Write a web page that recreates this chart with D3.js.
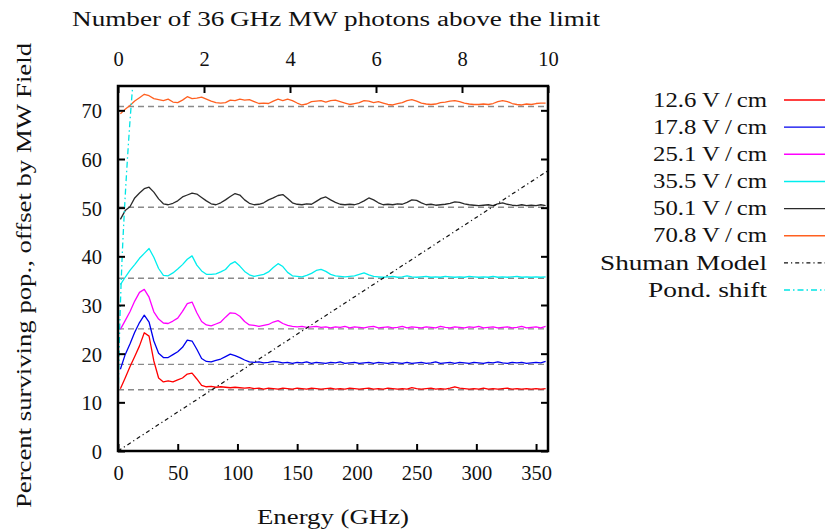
<!DOCTYPE html>
<html><head><meta charset="utf-8">
<script src="https://cdn.jsdelivr.net/npm/d3@7"></script>
<style>
body{margin:0;background:#fff}
svg text{font-family:"Liberation Serif","DejaVu Serif","Noto Serif",serif;fill:#111}
</style>
</head><body>
<svg id="c" width="826" height="531"></svg>
<script>
// ---- data ----
const energy = [
  2,6,10,14,18,22,26,30,34,38,
  42,46,50,54,58,62,66,70,74,78,
  82,86,90,94,98,102,106,110,114,118,
  122,126,130,134,138,142,146,150,154,158,
  162,166,170,174,178,182,186,190,194,198,
  202,206,210,214,218,222,226,230,234,238,
  242,246,250,254,258,262,266,270,274,278,
  282,286,290,294,298,302,306,310,314,318,
  322,326,330,334,338,342,346,350,354,358];

const fields = [12.6, 17.8, 25.1, 35.5, 50.1, 70.8];
const seriesNames = ["12.6 V\u2009/\u2009cm","17.8 V\u2009/\u2009cm","25.1 V\u2009/\u2009cm","35.5 V\u2009/\u2009cm","50.1 V\u2009/\u2009cm","70.8 V\u2009/\u2009cm"];

const pop126 = [
  12.8,15.0,17.3,19.4,21.6,24.3,23.6,18.5,15.0,14.2,
  14.4,14.2,14.6,15.0,15.8,16.0,14.8,13.5,13.2,13.3,
  13.1,13.2,13.1,13.0,13.1,13.0,12.9,13.0,12.8,12.9,
  12.7,12.9,12.8,12.7,12.9,12.8,12.7,12.9,12.8,12.7,
  12.9,12.8,12.7,12.8,12.9,12.7,12.8,12.7,12.9,12.8,
  12.7,12.8,12.9,12.7,12.8,12.7,12.9,12.8,12.7,12.8,
  12.7,13.0,12.8,12.7,12.8,12.9,12.7,12.8,12.7,12.9,
  13.2,12.9,12.8,12.7,12.8,12.7,12.9,12.7,12.8,12.7,
  12.8,12.9,12.7,12.8,12.7,12.8,12.7,12.8,12.7,12.8];

const pop178 = [
  16.8,19.8,22.0,24.4,26.4,27.9,26.5,22.6,20.1,19.2,
  19.2,19.8,20.4,21.3,22.8,22.6,20.9,19.0,18.4,18.3,
  18.6,18.9,19.4,19.9,19.6,19.2,18.7,18.3,18.2,18.3,
  18.1,18.2,18.4,18.3,18.1,18.2,18.0,18.2,18.1,18.3,
  18.0,18.2,18.1,18.0,18.2,18.1,18.3,18.0,18.1,18.2,
  18.0,18.1,18.2,18.0,18.2,18.1,18.0,18.2,18.1,18.0,
  18.2,18.0,18.1,18.2,18.0,18.1,18.3,18.0,18.1,18.2,
  18.0,18.2,18.1,18.0,18.2,18.1,18.0,18.2,18.1,18.3,
  18.1,18.0,18.2,18.1,18.2,18.0,18.1,18.2,18.1,18.4];

const pop251 = [
  25.0,26.8,28.6,30.8,32.6,33.2,31.6,28.6,27.1,26.3,
  26.2,26.7,27.3,28.7,30.3,30.6,28.4,26.6,25.9,25.7,
  26.1,26.5,27.5,28.4,28.3,27.7,26.6,25.9,25.8,25.6,
  25.8,26.0,26.5,26.8,26.2,25.8,25.6,25.5,25.6,25.4,
  25.5,25.6,25.4,25.5,25.3,25.5,25.4,25.6,25.3,25.5,
  25.4,25.3,25.5,25.6,25.3,25.4,25.5,25.3,25.4,25.6,
  25.3,25.5,25.4,25.3,25.5,25.4,25.3,25.6,25.4,25.3,
  25.5,25.4,25.3,25.5,25.4,25.6,25.3,25.4,25.5,25.3,
  25.4,25.5,25.3,25.4,25.6,25.3,25.4,25.5,25.3,25.6];

const pop355 = [
  34.2,35.7,37.1,38.3,39.6,40.6,41.6,39.8,37.5,36.1,
  36.0,36.6,37.4,38.3,39.4,40.1,38.2,37.0,36.3,36.3,
  36.4,36.8,37.3,38.4,38.9,38.0,36.9,36.2,35.9,36.1,
  36.3,36.8,37.7,38.5,37.9,36.7,36.0,35.9,35.8,36.1,
  36.5,37.1,37.3,36.9,36.3,36.0,35.9,35.8,35.9,36.0,
  36.3,36.6,36.2,35.9,35.8,35.7,35.8,35.9,35.7,35.8,
  36.0,35.8,35.7,35.8,35.9,35.7,35.8,35.7,35.9,35.8,
  35.7,35.8,35.7,35.9,35.8,35.7,35.8,35.7,35.9,35.7,
  35.8,35.7,35.8,35.9,35.7,35.8,35.7,35.8,35.7,35.8];

const pop501 = [
  47.6,49.4,50.2,52.0,53.0,53.9,54.2,53.2,51.8,50.8,
  50.6,50.9,51.4,52.2,52.6,53.0,52.8,52.1,51.4,50.8,
  50.6,51.0,51.6,52.3,52.9,52.6,51.6,50.9,50.6,50.7,
  51.0,51.6,52.0,52.5,52.7,51.9,51.0,50.7,50.6,50.8,
  50.7,51.3,51.9,52.2,51.6,51.1,50.7,50.6,50.7,50.6,
  50.9,51.4,52.0,51.6,51.0,50.6,50.7,50.6,50.8,50.7,
  51.1,51.6,51.5,51.0,50.6,50.7,50.5,50.6,50.7,50.9,
  51.2,51.1,50.8,50.6,50.5,50.4,50.5,50.6,50.4,50.8,
  51.0,50.7,50.5,50.4,50.6,50.4,50.5,50.4,50.6,50.4];

const pop708 = [
  69.3,70.2,71.0,71.9,72.6,73.3,73.0,72.4,72.2,72.0,
  72.3,71.7,71.6,72.1,72.8,72.4,72.5,72.7,72.3,71.9,
  71.6,71.5,71.6,72.1,72.0,72.3,72.1,72.2,71.8,71.4,
  71.5,71.4,71.9,72.3,72.0,72.3,72.0,71.5,71.1,71.3,
  71.8,71.9,72.0,71.7,72.0,72.1,71.8,71.5,71.2,71.4,
  71.6,72.0,71.9,71.6,71.8,71.5,71.2,71.1,71.4,71.6,
  72.0,72.2,71.9,71.5,71.3,71.2,71.3,71.6,71.7,71.9,
  72.0,71.8,71.5,71.3,71.2,71.2,71.3,71.2,71.4,71.8,
  72.0,71.8,71.4,71.2,71.1,71.3,71.2,71.4,71.5,71.5];

const shumanEnergy = [0, 360];
const shumanValue = [0, 57.6];

const pondField = [0, 10, 20, 30, 40, 50, 60, 70, 75];
const pondEnergy = [0, 0.2, 0.9, 2.0, 3.5, 5.5, 7.9, 10.7, 12.3];

const energyTicks = [0, 50, 100, 150, 200, 250, 300, 350];
const popTicks = [0, 10, 20, 30, 40, 50, 60, 70];
const photonTicks = [0, 2, 4, 6, 8, 10];

const colors = ["#ff0000", "#0000ee", "#ff00ff", "#00eeee", "#2a2a2a", "#ff6020"];

// ---- chart ----
const FS = 20.5;
const svg = d3.select("#c");
const L = 118, R = 548, T = 86, B = 451;
const x = d3.scaleLinear().domain([0, 360]).range([L, R]);
const xTop = d3.scaleLinear().domain([0, 10]).range([L, R]);
const y = d3.scaleLinear().domain([0, 75]).range([B, T]);

svg.append("defs").append("clipPath").attr("id", "clip")
  .append("rect").attr("x", L).attr("y", T).attr("width", R - L).attr("height", B - T);

const plot = svg.append("g").attr("clip-path", "url(#clip)");

// baselines
plot.selectAll("line.base").data(fields).enter().append("line")
  .attr("x1", x(0)).attr("x2", x(360))
  .attr("y1", d => y(d)).attr("y2", d => y(d))
  .attr("stroke", "#8a8a8a").attr("stroke-width", 1.4)
  .attr("stroke-dasharray", "6,4");

const allSeries = [pop126, pop178, pop251, pop355, pop501, pop708];
const line = d3.line().x(d => x(d[0])).y(d => y(d[1]));
allSeries.forEach((s, i) => {
  plot.append("path").datum(d3.zip(energy, s))
    .attr("d", line).attr("fill", "none")
    .attr("stroke", colors[i]).attr("stroke-width", 1.3)
    .attr("stroke-linejoin", "round");
});

// Shuman model
plot.append("path").datum(d3.zip(shumanEnergy, shumanValue))
  .attr("d", line).attr("fill", "none").attr("stroke", "#111")
  .attr("stroke-width", 1.2).attr("stroke-dasharray", "4,3,1.2,3");

// Pond. shift
const pondLine = d3.line().curve(d3.curveMonotoneY).x(d => x(d[0])).y(d => y(d[1]));
plot.append("path").datum(d3.zip(pondEnergy, pondField))
  .attr("d", pondLine).attr("fill", "none").attr("stroke", "#00e5e5")
  .attr("stroke-width", 1.3).attr("stroke-dasharray", "6,3,1.5,3");

// axes
function styleAxis(g) {
  g.select(".domain").remove();
  g.attr("font-family", null);
  g.selectAll(".tick line").attr("stroke", "#000").attr("stroke-width", 2);
  g.selectAll(".tick text").attr("font-size", FS).attr("fill", "#111");
}
svg.append("g").attr("transform", `translate(0,${B})`)
  .call(d3.axisBottom(x).tickValues(energyTicks).tickSizeInner(-7).tickSizeOuter(0).tickPadding(0))
  .call(styleAxis)
  .call(g => g.selectAll(".tick text").attr("dy", null).attr("y", 29));

svg.append("g").attr("transform", `translate(0,${T})`)
  .call(d3.axisTop(xTop).tickValues(photonTicks).tickSizeInner(-7).tickSizeOuter(0).tickPadding(0))
  .call(styleAxis)
  .call(g => g.selectAll(".tick text").attr("dy", null).attr("y", -20));

svg.append("g").attr("transform", `translate(${L},0)`)
  .call(d3.axisLeft(y).tickValues(popTicks).tickSizeInner(-7).tickSizeOuter(0).tickPadding(0))
  .call(styleAxis)
  .call(g => g.selectAll(".tick text").attr("x", -16).attr("dy", "0.36em"));

svg.append("g").attr("transform", `translate(${R},0)`)
  .call(d3.axisRight(y).tickValues(popTicks).tickSizeInner(-7).tickSizeOuter(0).tickFormat(""))
  .call(styleAxis);

// frame
svg.append("rect").attr("x", L).attr("y", T).attr("width", R - L).attr("height", B - T)
  .attr("fill", "none").attr("stroke", "#000").attr("stroke-width", 2.5);

// axis titles
svg.append("text").attr("x", 336).attr("y", 26).attr("text-anchor", "middle")
  .attr("font-size", FS).attr("textLength", 528).attr("lengthAdjust", "spacingAndGlyphs")
  .text("Number of 36\u2009GHz MW photons above the limit");
svg.append("text").attr("x", 333).attr("y", 524).attr("text-anchor", "middle")
  .attr("font-size", FS).attr("textLength", 152).attr("lengthAdjust", "spacingAndGlyphs")
  .text("Energy (GHz)");
svg.append("text").attr("transform", "translate(31,275.5) rotate(-90)").attr("text-anchor", "middle")
  .attr("font-size", FS).attr("textLength", 465).attr("lengthAdjust", "spacingAndGlyphs")
  .text("Percent surviving pop., offset by MW Field");

// legend
const legendItems = seriesNames.map((n, i) => ({name: n, color: colors[i], dash: null, w: 114}))
  .concat([{name: "Shuman Model", color: "#111", dash: "4,3,1.2,3", w: 167},
           {name: "Pond. shift", color: "#00e5e5", dash: "6,3,1.5,3", w: 119}]);
const lg = svg.append("g");
legendItems.forEach((d, i) => {
  const ly = 100 + i * 27.15;
  lg.append("text").attr("x", 767).attr("y", ly + 6.7).attr("text-anchor", "end")
    .attr("font-size", FS).attr("textLength", d.w).attr("lengthAdjust", "spacingAndGlyphs")
    .text(d.name);
  lg.append("line").attr("x1", 784).attr("x2", 825).attr("y1", ly).attr("y2", ly)
    .attr("stroke", d.color).attr("stroke-width", 1.4)
    .attr("stroke-dasharray", d.dash);
});
</script>
</body></html>
